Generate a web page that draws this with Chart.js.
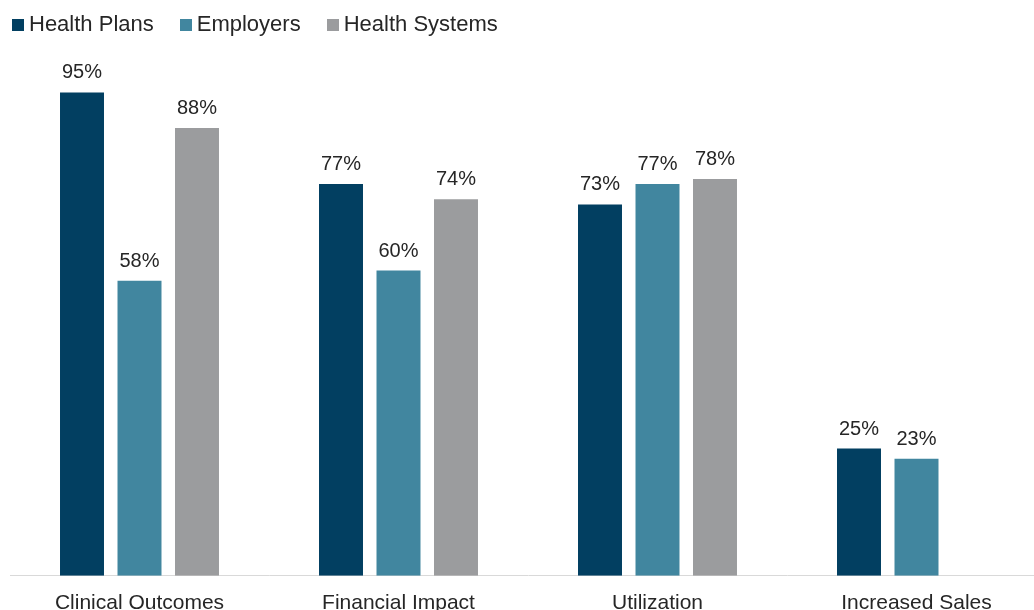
<!DOCTYPE html>
<html>
<head>
<meta charset="utf-8">
<title>Outcomes by stakeholder</title>
<script src="https://cdn.jsdelivr.net/npm/chart.js@4/dist/chart.umd.min.js"></script>
<style>
  html, body { margin: 0; padding: 0; background: #fff; overflow: hidden; }
  #wrap { position: relative; width: 1046px; height: 623px; }
  #legend {
    position: absolute; left: 12px; top: 13px;
    font: 22px/22px "Liberation Sans", Arial, sans-serif; color: #262626;
    white-space: nowrap;
  }
  #legend .item { display: inline-block; margin-right: 26px; }
  #legend .box { display: inline-block; width: 12px; height: 12px; margin-right: 5px; }
</style>
</head>
<body>
<div id="wrap">
  <canvas id="outcomes" width="1046" height="623"></canvas>
  <div id="legend"></div>
</div>
<script>
const categories = ["Clinical Outcomes", "Financial Impact", "Utilization", "Increased Sales"];
const healthPlans = [95, 77, 73, 25];
const employers = [58, 60, 77, 23];
const healthSystems = [88, 74, 78, null];

const seriesNames = ["Health Plans", "Employers", "Health Systems"];
const seriesColors = ["#023f61", "#41869f", "#9b9c9e"];

Chart.defaults.font.family = "'Liberation Sans', Arial, sans-serif";
Chart.defaults.color = "#262626";

// percent labels above each bar
const valueLabels = {
  id: "valueLabels",
  afterDatasetsDraw(chart) {
    const ctx = chart.ctx;
    ctx.save();
    ctx.font = "20px 'Liberation Sans', Arial, sans-serif";
    ctx.fillStyle = "#262626";
    ctx.textAlign = "center";
    ctx.textBaseline = "alphabetic";
    chart.data.datasets.forEach((ds, i) => {
      chart.getDatasetMeta(i).data.forEach((bar, j) => {
        const v = ds.data[j];
        if (v == null) return;
        ctx.fillText(v + "%", bar.x, bar.y - 14);
      });
    });
    ctx.restore();
  }
};

const datasets = [healthPlans, employers, healthSystems].map((data, i) => ({
  label: seriesNames[i],
  data: data,
  backgroundColor: seriesColors[i],
  borderWidth: 0,
  categoryPercentage: 0.666,
  barPercentage: 0.765
}));

new Chart(document.getElementById("outcomes"), {
  type: "bar",
  data: { labels: categories, datasets: datasets },
  options: {
    responsive: false,
    animation: false,
    devicePixelRatio: 1,
    layout: { padding: { top: 67, left: 10, right: 0, bottom: 0 } },
    plugins: {
      legend: { display: false },
      tooltip: { enabled: false }
    },
    scales: {
      x: {
        grid: { display: false },
        border: { display: true, color: "#d9d9d9", width: 1 },
        ticks: { font: { size: 21 }, color: "#262626", padding: 7, maxRotation: 0, autoSkip: false }
      },
      y: { display: false, min: 0, max: 100 }
    }
  },
  plugins: [valueLabels]
});

// legend row
const legend = document.getElementById("legend");
seriesNames.forEach((name, i) => {
  const item = document.createElement("span");
  item.className = "item";
  const box = document.createElement("span");
  box.className = "box";
  box.style.background = seriesColors[i];
  item.appendChild(box);
  item.appendChild(document.createTextNode(name));
  legend.appendChild(item);
});
</script>
</body>
</html>
